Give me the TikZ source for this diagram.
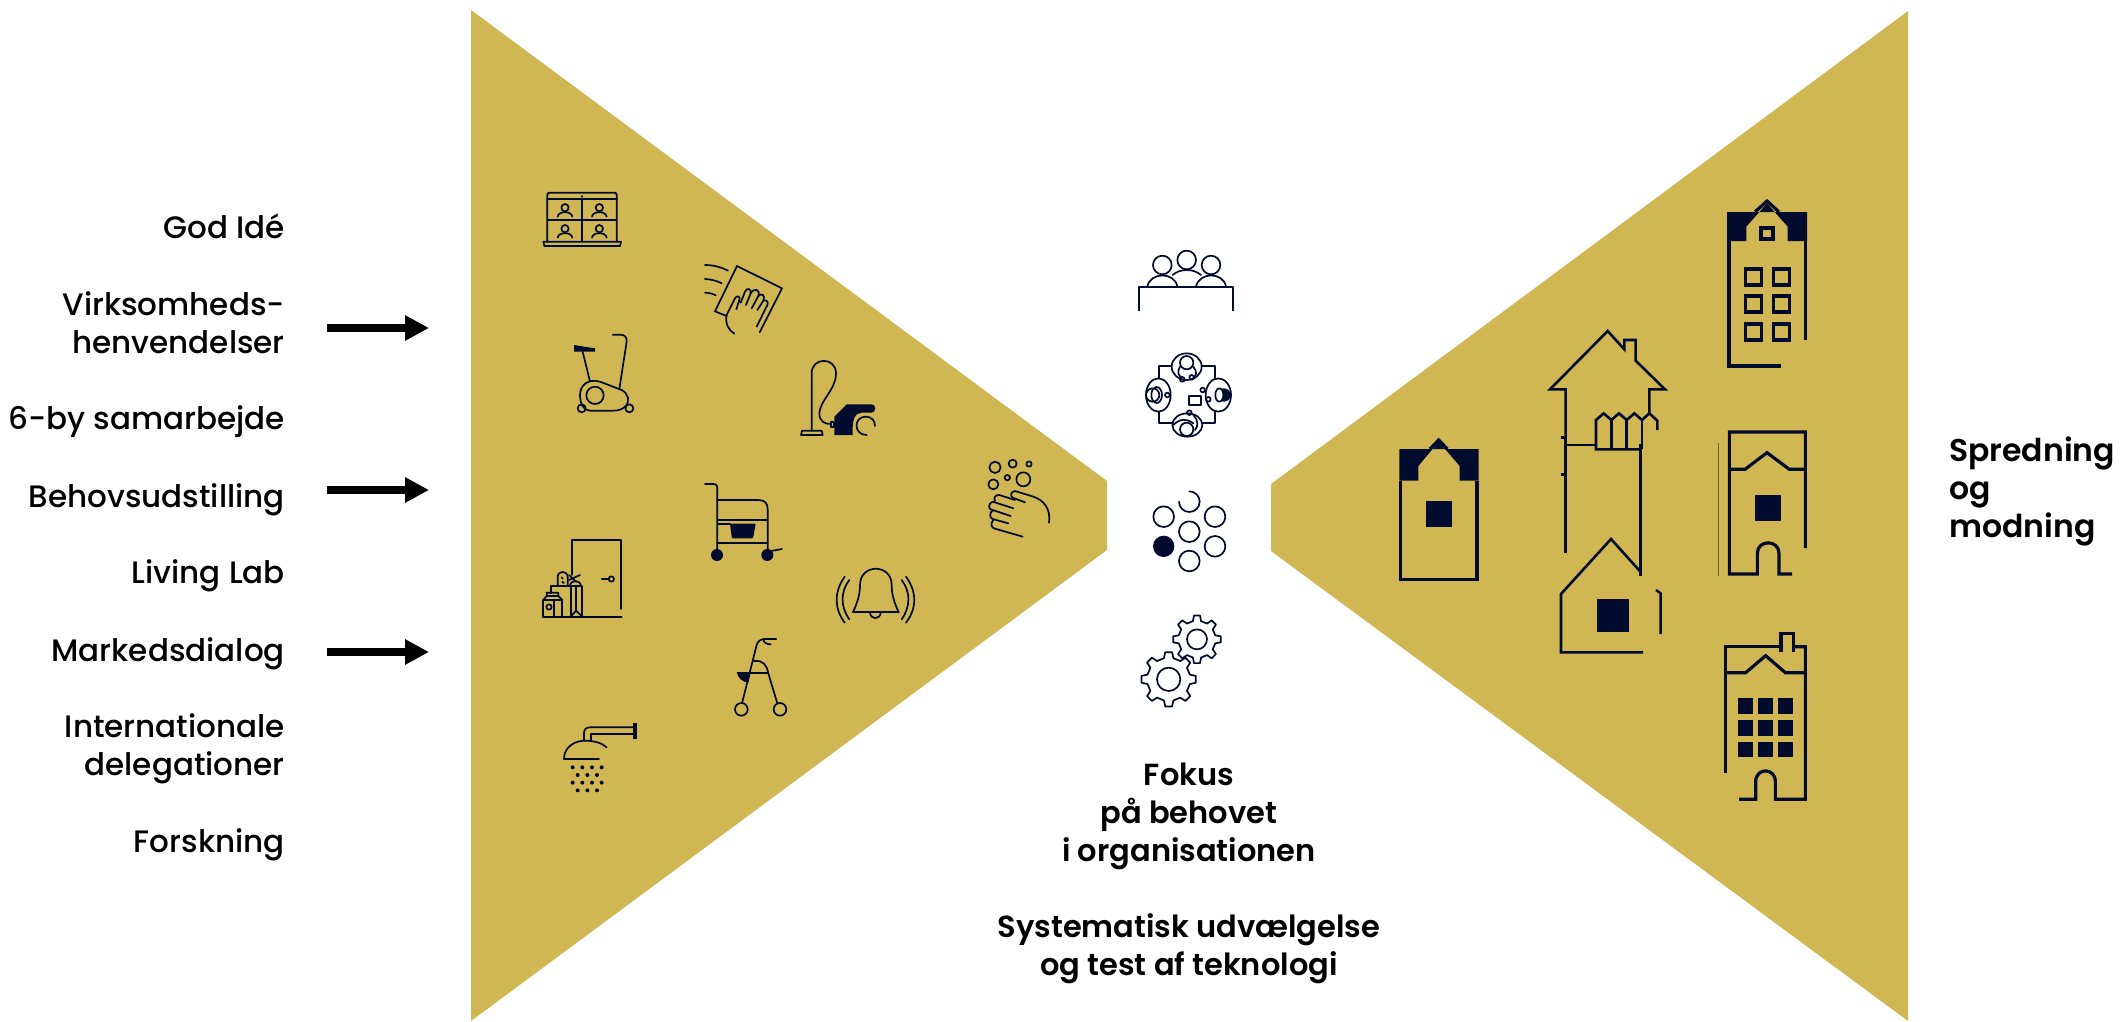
\documentclass[tikz,border=0pt]{standalone}
\usepackage{fontspec}
\setmainfont{Poppins Medium}
\newfontfamily\medfont{Poppins SemiBold}
\usetikzlibrary{arrows.meta}
\definecolor{gold}{HTML}{D0B754}
\definecolor{navy}{HTML}{000B2D}
\tikzset{
  thinicon/.style={draw=navy,line width=1.7pt,line cap=round,line join=round,fill=none},
  houseline/.style={draw=navy,line width=3.2pt,line cap=butt,line join=miter,fill=none},
  leftlabel/.style={inner sep=0pt,anchor=base east,align=right,font=\fontsize{31pt}{38pt}\selectfont,text=black},
  midlabel/.style={inner sep=0pt,anchor=base,align=center,font=\medfont\fontsize{30.5pt}{38pt}\selectfont,text=black},
  rightlabel/.style={inner sep=0pt,anchor=base west,align=left,font=\medfont\fontsize{31.5pt}{38pt}\selectfont,text=black},
  bigarrow/.style={draw=black,line width=8pt,-{Triangle[length=24pt,width=24pt]}},
  zoomed/.style={shift={#1},scale=1/3}
}
\newcommand{\gearshape}[6]{% cx cy outer root inner teeth
  \draw[thinicon] \foreach \k in {1,...,#6}{
    \ifnum\k=1 ({#1+#3*cos(360/#6*(\k-.16))},{#2+#3*sin(360/#6*(\k-.16))}) \else -- ({#1+#3*cos(360/#6*(\k-.16))},{#2+#3*sin(360/#6*(\k-.16))}) \fi
    -- ({#1+#3*cos(360/#6*(\k+.16))},{#2+#3*sin(360/#6*(\k+.16))})
    -- ({#1+#4*cos(360/#6*(\k+.28))},{#2+#4*sin(360/#6*(\k+.28))})
    -- ({#1+#4*cos(360/#6*(\k+.72))},{#2+#4*sin(360/#6*(\k+.72))})
  } -- cycle;
  \draw[thinicon] (#1,#2) circle[radius=#5];
}
\begin{document}
\begin{tikzpicture}[x=1pt,y=-1pt]
\useasboundingbox (0,0) rectangle (2121,1021);
% funnels
\fill[gold] (471,10) -- (1107,481) -- (1107,550) -- (471,1021) -- cycle;
\fill[gold] (1908,11) -- (1271,484) -- (1271,551) -- (1908,1021) -- cycle;
% left labels
\node[leftlabel] (l1) at (285,238) {God Idé};
\node[leftlabel] (l2) at (285,353) {Virksomheds-\\henvendelser};
\node[leftlabel] (l3) at (285,429) {6-by samarbejde};
\node[leftlabel] (l4) at (285,507) {Behovsudstilling};
\node[leftlabel] (l5) at (285,583) {Living Lab};
\node[leftlabel] (l6) at (285,661) {Markedsdialog};
\node[leftlabel] (l7) at (285,775) {Internationale\\delegationer};
\node[leftlabel] (l8) at (285,852) {Forskning};
% arrows
\coordinate (a1s) at (327,328); \coordinate (a1e) at (429,328);
\coordinate (a2s) at (327,490); \coordinate (a2e) at (429,490);
\coordinate (a3s) at (327,652); \coordinate (a3e) at (429,652);
\draw[bigarrow] (a1s) -- (a1e);
\draw[bigarrow] (a2s) -- (a2e);
\draw[bigarrow] (a3s) -- (a3e);
% centre labels
\node[midlabel] (c1) at (1189,861) {Fokus\\på behovet\\i organisationen};
\node[midlabel] (c2) at (1189,975) {Systematisk udvælgelse\\og test af teknologi};
\node[rightlabel] (r1) at (1949,537) {Spredning\\og\\modning};

% icons of zoom 1
\begin{scope}[zoomed={(500,170)}]
  % laptop
  \draw[thinicon] (142,215) -- (142,76) .. controls (142,70) .. (148,68) -- (344,68) .. controls (350,70) .. (350,76) -- (350,215);
  \draw[thinicon] (142,88) -- (350,88) (142,151) -- (350,151) (246,88) -- (246,215);
  \draw[thinicon] (130,215) -- (363,215) -- (360,228) -- (133,228) -- cycle;
  \fill[navy] (246,79) circle[radius=4];
  \foreach \px/\py in {195/113,298/113,195/176,298/176}{
    \draw[thinicon] (\px,\py) circle[radius=11];
    \draw[thinicon] ({\px-22},{\py+27}) .. controls ({\px-20},{\py+9}) and ({\px+20},{\py+9}) .. ({\px+22},{\py+27});
  }
  % cloth
  \draw[thinicon] (680,438) -- (645,424) -- (711,288) -- (846,355) -- (779,487);
  \draw[thinicon] (615,285) .. controls (640,285) and (665,292) .. (684,302);
  \draw[thinicon] (615,327) .. controls (635,328) and (652,333) .. (665,340);
  \draw[thinicon] (615,368) .. controls (628,368) and (640,372) .. (647,376);
  \draw[thinicon] (703,491) .. controls (685,480) and (675,460) .. (680,435) -- (705,385) .. controls (710,375) and (722,378) .. (718,390) -- (709,418);
  \draw[thinicon] (722,398) -- (735,365) .. controls (740,352) and (755,355) .. (752,370) -- (738,405);
  \draw[thinicon] (752,370) .. controls (762,352) and (782,358) .. (775,378) -- (755,415);
  \draw[thinicon] (775,378) .. controls (785,368) and (797,375) .. (790,392) -- (772,420);
  \draw[thinicon] (790,392) .. controls (798,388) and (807,395) .. (802,405) -- (770,470);
  % bike
  \fill[navy] (222,525) -- (285,535) -- (285,545) -- (222,545) -- cycle;
  \draw[thinicon] (248,545) -- (270,635);
  \draw[thinicon] (338,494) -- (362,494) .. controls (375,494) and (381,503) .. (380,515) -- (358,657);
  \draw[thinicon] (240,675) .. controls (240,645) and (265,625) .. (300,635) -- (365,660) .. controls (385,670) and (392,695) .. (375,710) .. controls (365,720) and (350,722) .. (340,722) -- (270,722) .. controls (250,722) and (240,700) .. (240,675) -- cycle;
  \draw[thinicon] (285,676) circle[radius=26];
  \draw[thinicon] (245,715) circle[radius=12];
  \draw[thinicon] (388,715) circle[radius=12];
  % vacuum
  \draw[thinicon] (903,795) -- (906,782) -- (965,782) -- (968,795) -- cycle;
  \draw[thinicon] (935,782) -- (935,610) .. controls (935,560) and (1008,560) .. (1008,610) .. controls (1008,660) and (960,690) .. (958,730) .. controls (958,755) and (975,762) .. (992,762);
  \draw[thinicon] (992,755) rectangle (1003,770);
  \fill[navy] (1003,795) -- (1003,740) -- (1040,703) -- (1115,703) .. controls (1129,703) and (1129,728) .. (1115,728) -- (1085,728) .. controls (1065,730) and (1056,745) .. (1058,795) -- cycle;
  \draw[thinicon] (1100,795) .. controls (1060,795) and (1060,740) .. (1097,740) .. controls (1115,740) and (1125,752) .. (1125,768);
\end{scope}

% icons of zoom 2
\begin{scope}[zoomed={(500,460)}]
  % commode
  \draw[thinicon] (615,72) -- (640,72) .. controls (650,72) and (652,78) .. (652,88) -- (652,285);
  \draw[thinicon] (652,120) -- (775,120) .. controls (795,120) and (803,130) .. (803,148) -- (803,285);
  \draw[thinicon] (652,180) -- (803,180) (652,248) -- (803,248) (652,193) -- (690,193);
  \fill[navy] (690,191) -- (767,191) -- (760,230) .. controls (758,235) .. (752,235) -- (702,235) .. controls (696,235) .. (695,230) -- cycle;
  \fill[navy] (651,285) circle[radius=18] (802,285) circle[radius=18];
  \draw[thinicon] (802,275) -- (846,267);
  % door and groceries
  \draw[thinicon] (215,345) -- (215,240) -- (363,240) -- (363,447);
  \draw[thinicon] (130,470) -- (365,470);
  \draw[thinicon] (334,357) circle[radius=8] (305,357) -- (326,357);
  \draw[thinicon] (212,378) rectangle (247,470);
  \draw[thinicon] (212,470) -- (228,452) -- (247,470) (228,452) -- (228,382);
  \draw[thinicon] (153,400) -- (153,378) -- (212,378);
  \draw[thinicon] (130,420) rectangle (187,470) (163,420) -- (163,470);
  \draw[thinicon] (130,420) -- (140,408) -- (175,408) -- (187,420) (140,408) -- (140,398) -- (175,398) -- (175,408);
  \draw[thinicon] (147,441) circle[radius=8];
  \draw[thinicon] (173,378) -- (173,352) .. controls (173,330) and (203,330) .. (203,352) -- (203,378);
  \draw[thinicon] (185,352) -- (188,356) (187,365) -- (191,369);
  \draw[thinicon] (207,345) -- (228,365) (207,360) -- (240,345);
  \draw[thinicon] (210,378) .. controls (212,358) and (240,358) .. (243,378);
  % bell
  \draw[thinicon] (1058,455) -- (1197,455);
  \draw[thinicon] (1060,455) .. controls (1075,420) and (1080,400) .. (1080,375) .. controls (1080,310) and (1175,310) .. (1175,375) .. controls (1175,400) and (1180,420) .. (1195,455);
  \draw[thinicon] (1110,457) .. controls (1110,480) and (1142,480) .. (1142,457);
  \draw[thinicon] (1048,360) .. controls (1021,395) and (1021,440) .. (1048,478);
  \draw[thinicon] (1034,350) .. controls (1002,395) and (1002,445) .. (1034,488);
  \draw[thinicon] (1205,360) .. controls (1232,395) and (1232,440) .. (1205,478);
  \draw[thinicon] (1218,350) .. controls (1251,395) and (1251,445) .. (1218,488);
  % walker
  \draw[thinicon] (829,537) -- (795,537) .. controls (780,537) and (773,545) .. (770,555) -- (726,730);
  \draw[thinicon] (790,537) .. controls (790,548) and (800,553) .. (812,553);
  \draw[thinicon] (762,603) .. controls (790,600) and (800,615) .. (805,640) -- (832,730);
  \draw[thinicon] (750,638) -- (805,638);
  \fill[navy] (710,636) -- (752,636) -- (745,668) .. controls (725,665) and (715,655) .. (710,636) -- cycle;
  \draw[thinicon] (724,748) circle[radius=19] (840,748) circle[radius=19];
  % shower
  \fill[navy] (400,790) rectangle (411,836);
  \draw[thinicon] (400,802) -- (270,802) .. controls (258,802) and (252,808) .. (252,820) -- (252,842);
  \draw[thinicon] (400,823) -- (272,823) -- (272,842);
  \draw[thinicon] (192,897) -- (297,897);
  \draw[thinicon] (192,897) .. controls (192,860) and (225,842) .. (255,842) .. controls (280,842) and (305,848) .. (320,862);
  \foreach \py in {922,968}{\foreach \px in {218,247,276,305}{\fill[navy] (\px,\py) circle[radius=6];}}
  \foreach \py in {945,991}{\foreach \px in {233,262,291}{\fill[navy] (\px,\py) circle[radius=6];}}
\end{scope}

% soap hand
\begin{scope}[zoomed={(970,440)}]
  \foreach \px/\py/\pr in {75/82/17,128/71/12,177/72/8,112/113/8,160/118/21,70/133/15}{
    \draw[thinicon] (\px,\py) circle[radius=\pr];
  }
  \draw[thinicon] (237,248) .. controls (243,205) and (220,180) .. (190,170) -- (135,153) .. controls (122,155) and (120,168) .. (128,173) -- (165,187);
  \draw[thinicon] (135,180) -- (88,165) .. controls (75,163) and (70,175) .. (75,183);
  \draw[thinicon] (130,205) -- (68,185) .. controls (55,190) and (55,205) .. (62,208) -- (122,228);
  \draw[thinicon] (68,212) .. controls (58,218) and (58,233) .. (68,237) -- (115,250);
  \draw[thinicon] (70,240) .. controls (60,250) and (65,263) .. (72,265) -- (158,290);
\end{scope}

% central icons
\begin{scope}[zoomed={(1100,230)}]
  \draw[thinicon] (187,105) circle[radius=28] (260,90) circle[radius=28] (333,105) circle[radius=28];
  \draw[thinicon] (142,170) .. controls (150,125) and (225,125) .. (232,170);
  \draw[thinicon] (218,135) .. controls (240,115) and (280,115) .. (303,135);
  \draw[thinicon] (288,170) .. controls (298,125) and (370,125) .. (378,170);
  \draw[thinicon,line cap=butt] (117,242) -- (117,170) -- (400,170) -- (400,242);
  % circles
  \foreach \px/\py in {191/860,345/860,268/905,345/949,268/993}{
    \draw[thinicon] (\px,\py) circle[radius=31];
  }
  \fill[navy] (191,949) circle[radius=32];
  \draw[thinicon] (237,815) .. controls (237,832) and (251,846) .. (268,846) .. controls (285,846) and (299,832) .. (299,815) .. controls (299,798) and (285,784) .. (268,784);
  % gears
  \gearshape{291}{1228}{72}{56}{30}{8}
  \gearshape{206}{1348}{82}{65}{35}{8}
\end{scope}

% meeting
\begin{scope}[zoomed={(1130,340)}]
  \draw[thinicon,line cap=butt] (86,78) rectangle (256,250);
  \draw[thinicon,fill=white] (170,80) ellipse[x radius=45,y radius=40];
  \draw[thinicon] (170,68) circle[radius=20];
  \draw[thinicon] (150,80) .. controls (140,95) and (145,110) .. (157,112) (190,80) .. controls (202,95) and (200,108) .. (190,112);
  \draw[thinicon] (157,118) circle[radius=7] (185,112) circle[radius=7];
  \draw[thinicon,fill=white] (85,165) ellipse[x radius=37,y radius=50];
  \draw[thinicon] (68,165) circle[radius=20] (80,165) ellipse[x radius=16,y radius=24] (112,165) circle[radius=7];
  \draw[thinicon,fill=white] (265,165) ellipse[x radius=38,y radius=50];
  \fill[navy] (282,165) circle[radius=20];
  \fill[white] (268,165) ellipse[x radius=12,y radius=20];
  \draw[thinicon] (268,165) ellipse[x radius=12,y radius=20];
  \draw[thinicon] (218,150) circle[radius=7] (235,178) circle[radius=7];
  \draw[thinicon] (177,167) rectangle (212,195);
  \draw[thinicon,fill=white] (172,255) ellipse[x radius=45,y radius=35];
  \draw[thinicon] (170,268) circle[radius=20];
  \draw[thinicon] (178,218) circle[radius=7];
  \draw[thinicon] (130,255) .. controls (150,235) and (170,235) .. (190,250) (190,225) .. controls (205,240) and (205,260) .. (195,270);
\end{scope}

% houses zoom 4
\begin{scope}[zoomed={(1380,320)}]
  \fill[navy] (58,387) -- (296,387) -- (296,482) -- (239,482) -- (239,438) -- (176,365) -- (115,438) -- (115,482) -- (58,482) -- cycle;
  \draw[houseline] (150,387) -- (176,360) -- (202,387);
  \draw[houseline] (62,482) -- (62,778) -- (291,778) -- (291,482);
  \fill[navy] (138,542) rectangle (215,620);
  % tall house
  \draw[houseline,line width=2.6pt] (557,348) -- (557,208) -- (510,208) -- (683,33) -- (733,88) -- (733,60) -- (767,60) -- (767,122) -- (855,208) -- (808,208) -- (808,280);
  \draw[houseline,line width=2.6pt] (832,330) -- (832,302) -- (808,280) -- (786,300) -- (763,280) -- (740,300) -- (717,280) -- (694,300) -- (671,280) -- (648,300) -- (648,388) -- (782,388);
  \draw[houseline,line width=2.6pt] (694,300) -- (694,388) (740,300) -- (740,388) (786,300) -- (786,388);
  \draw[houseline,line width=2.6pt] (557,375) -- (648,375);
  \draw[houseline] (557,348) -- (557,700);
  \draw[houseline,line width=2.6pt] (782,465) -- (782,768);
  \draw[houseline] (782,372) -- (782,465);
  \draw[houseline] (543,353) -- (557,353) (543,464) -- (557,464);
  \draw[houseline] (782,768) -- (782,752);
  \draw[houseline,line width=2.6pt] (782,756) -- (693,657) -- (543,822) -- (543,997) -- (789,997);
  \fill[navy] (650,837) rectangle (746,935);
  \draw[houseline,line width=2.4pt] (828,810) -- (842,820) -- (842,942);
\end{scope}

% top-right house
\begin{scope}[zoomed={(1700,190)}]
  \fill[navy] (81,66) -- (321,66) -- (321,153) -- (263,153) -- (263,110) -- (201,40) -- (139,110) -- (139,153) -- (81,153) -- cycle;
  \draw[houseline] (165,66) -- (201,33) -- (237,66);
  \draw[houseline,line width=3.7pt] (86,153) -- (86,528) -- (243,528);
  \draw[houseline,line width=3.7pt] (316,153) -- (316,450);
  \draw[houseline,line width=3.7pt] (183,113) rectangle (219,148);
  \foreach \px in {136,220}{\foreach \py in {236,319,402}{
    \draw[houseline,line width=3.7pt] (\px,\py) rectangle ++(48,48);
  }}
\end{scope}

% lower-right houses
\begin{scope}[zoomed={(1700,420)}]
  \draw[houseline] (316,384) -- (316,36) -- (88,36) -- (88,462) -- (172,462) -- (172,400) .. controls (172,358) and (237,358) .. (237,400) -- (237,462) -- (276,462);
  \draw[houseline] (88,148) -- (135,148) -- (201,98) -- (268,148) -- (316,148);
  \fill[navy] (165,226) rectangle (242,304);
  \draw[navy!50!gold,line width=.8pt] (55,70) -- (55,467);
  \draw[houseline] (77,1060) -- (77,680) -- (243,680);
  \draw[houseline] (243,695) -- (243,640) -- (280,640) -- (280,695);
  \draw[houseline] (280,680) -- (316,680) -- (316,1138) -- (226,1138) -- (226,1085) .. controls (226,1042) and (167,1042) .. (167,1085) -- (167,1138) -- (117,1138);
  \draw[houseline] (77,758) -- (137,758) -- (197,707) -- (256,758) -- (316,758);
  \foreach \px in {113,174,234}{\foreach \py in {835,901,966}{
    \fill[navy] (\px,\py) rectangle ++(46,46);
  }}
\end{scope}
\end{tikzpicture}
\end{document}
